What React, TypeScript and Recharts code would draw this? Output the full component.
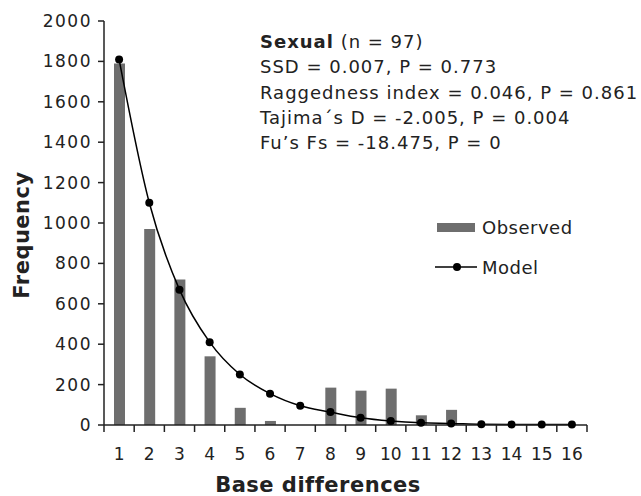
import { ComposedChart, Bar, Line, XAxis, YAxis } from 'recharts'

const categories = ['1', '2', '3', '4', '5', '6', '7', '8', '9', '10', '11', '12', '13', '14', '15', '16']
const observed = [1790, 970, 720, 340, 85, 20, 0, 185, 170, 180, 48, 75, 0, 0, 0, 0]
const model = [1810, 1100, 670, 410, 250, 155, 95, 64, 36, 20, 11, 8, 4, 3, 2, 2]
const yTicks = [0, 200, 400, 600, 800, 1000, 1200, 1400, 1600, 1800, 2000]
const statLines = [
  'SSD = 0.007, P = 0.773',
  'Raggedness index = 0.046, P = 0.861',
  'Tajima´s D = -2.005, P = 0.004',
  'Fu’s Fs = -18.475, P = 0',
]

const data = categories.map((c, i) => ({ diff: c, observed: observed[i], model: model[i] }))

const W = 641
const H = 496
const margin = { top: 21, right: 54, left: 20, bottom: 0 }
const yAxisW = 84
const plotW = W - margin.left - margin.right - yAxisW
const band = plotW / categories.length
const font = '"DejaVu Sans", sans-serif'
const ink = '#222'
const barFill = '#6e6e6e'

function XTick(props: any) {
  const { x, y, payload, index } = props
  const left = x - band / 2
  return (
    <g>
      <line x1={left} y1={y - 7} x2={left} y2={y} stroke={ink} strokeWidth={1.5} />
      {index === categories.length - 1 && (
        <line x1={x + band / 2} y1={y - 7} x2={x + band / 2} y2={y} stroke={ink} strokeWidth={1.5} />
      )}
      <text x={x} y={y + 28} textAnchor="middle" fontSize={17} fill={ink} fontFamily={font}>
        {payload.value}
      </text>
    </g>
  )
}

function YTick(props: any) {
  const { x, y, payload } = props
  return (
    <text x={x} y={y + 6} textAnchor="end" fontSize={17} letterSpacing={1.5} fill={ink} fontFamily={font}>
      {payload.value}
    </text>
  )
}

export default function App() {
  return (
    <div style={{ position: 'absolute', left: 0, top: 0, width: W, height: H, background: '#fff' }}>
      <ComposedChart width={W} height={H} data={data} margin={margin}>
        <XAxis
          dataKey="diff"
          height={71}
          tick={<XTick />}
          tickLine={false}
          tickSize={7}
          tickMargin={0}
          interval={0}
          axisLine={{ stroke: ink, strokeWidth: 1.5 }}
        />
        <YAxis
          width={yAxisW}
          domain={[0, 2000]}
          ticks={yTicks}
          interval={0}
          tickSize={6}
          tickMargin={6}
          tick={<YTick />}
          tickLine={{ stroke: ink, strokeWidth: 1.5 }}
          axisLine={{ stroke: ink, strokeWidth: 1.5 }}
        />
        <Bar dataKey="observed" name="Observed" fill={barFill} barSize={11} isAnimationActive={false} />
        <Line
          type="monotone"
          dataKey="model"
          name="Model"
          stroke="#000"
          strokeWidth={1.5}
          dot={{ r: 4, fill: '#000', stroke: '#000', strokeWidth: 0 }}
          activeDot={false}
          isAnimationActive={false}
        />
      </ComposedChart>

      <div style={{ position: 'absolute', left: 435, top: 217, fontFamily: font, fontSize: 18, letterSpacing: 0.5, color: ink }}>
        <div style={{ display: 'flex', alignItems: 'center', height: 20 }}>
          <span style={{ width: 38, height: 9, background: barFill, marginLeft: 2, marginRight: 7 }} />
          <span>Observed</span>
        </div>
        <div style={{ display: 'flex', alignItems: 'center', height: 20, marginTop: 20 }}>
          <svg width={45} height={10} style={{ marginRight: 2 }}>
            <line x1={0} y1={5} x2={42} y2={5} stroke="#000" strokeWidth={1.5} />
            <circle cx={22} cy={5} r={4} fill="#000" />
          </svg>
          <span>Model</span>
        </div>
      </div>

      <div
        style={{
          position: 'absolute', left: 260, top: 29, fontFamily: font, fontSize: 18, letterSpacing: 1,
          lineHeight: '25.3px', color: ink, whiteSpace: 'nowrap',
        }}
      >
        <div><b>Sexual</b> (n = 97)</div>
        {statLines.map(s => <div key={s}>{s}</div>)}
      </div>

      <div
        style={{
          position: 'absolute', left: 22, top: 235, transform: 'translate(-50%, -50%) rotate(-90deg)',
          fontFamily: font, fontSize: 21, fontWeight: 'bold', letterSpacing: 0.5, color: ink, whiteSpace: 'nowrap',
        }}
      >
        Frequency
      </div>
      <div
        style={{
          position: 'absolute', left: 318, top: 485, transform: 'translate(-50%, -50%)',
          fontFamily: font, fontSize: 21, fontWeight: 'bold', letterSpacing: 0.5, color: ink, whiteSpace: 'nowrap',
        }}
      >
        Base differences
      </div>
    </div>
  )
}
